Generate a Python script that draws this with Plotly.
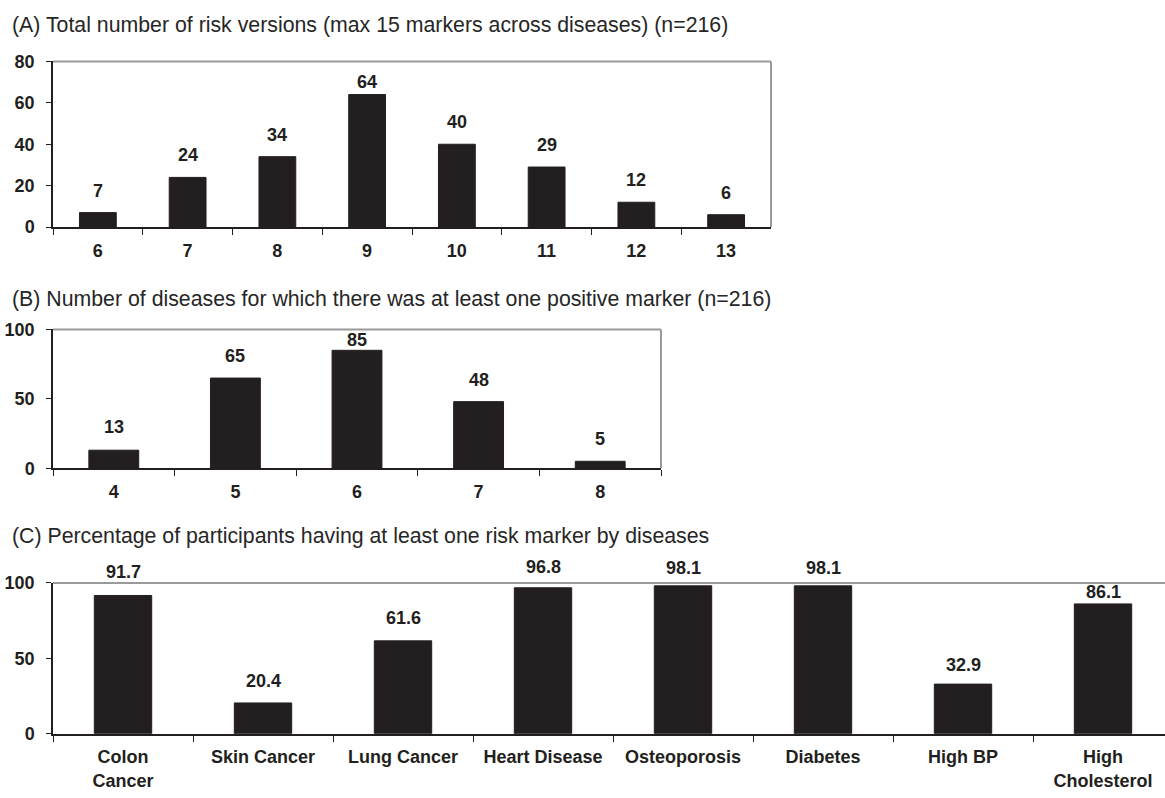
import plotly.graph_objects as go

# Panel A: total number of risk versions
a_categories = ["6", "7", "8", "9", "10", "11", "12", "13"]
a_counts = [7, 24, 34, 64, 40, 29, 12, 6]

# Panel B: number of diseases with at least one positive marker
b_categories = ["4", "5", "6", "7", "8"]
b_counts = [13, 65, 85, 48, 5]

# Panel C: percentage of participants with at least one risk marker
c_categories = ["Colon<br>Cancer", "Skin Cancer", "Lung Cancer", "Heart Disease",
                "Osteoporosis", "Diabetes", "High BP", "High<br>Cholesterol"]
c_percent = [91.7, 20.4, 61.6, 96.8, 98.1, 98.1, 32.9, 86.1]

titles = [
    "(A) Total number of risk versions (max 15 markers across diseases) (n=216)",
    "(B) Number of diseases for which there was at least one positive marker (n=216)",
    "(C) Percentage of participants having at least one risk marker by diseases",
]

# gap (px) between bar top and the baseline of its value label
a_gaps = [15, 15, 15, 6, 15, 15, 15, 15]
b_gaps = [16, 15, 3, 15, 15]
c_gaps = [16, 15, 16, 14, 11, 11, 12, 5]

W, H = 1165, 798
INK = "#231f20"
BORDER = "#9a9a9a"
FONT = "Liberation Sans, Arial, sans-serif"


def px_x(v):
    return v / W


def px_y(v):
    return (H - v) / H


panels = [
    dict(cats=a_categories, vals=a_counts, gaps=a_gaps, fmt="{:d}",
         x=(53, 771), y=(222.7, 52.7), yr=[0, 80], dtick=20, right=True,
         title_y=15),
    dict(cats=b_categories, vals=b_counts, gaps=b_gaps, fmt="{:d}",
         x=(53, 661), y=(470, 327.7), yr=[0, 100], dtick=50, right=True,
         title_y=296),
    dict(cats=c_categories, vals=c_percent, gaps=c_gaps, fmt="{:.1f}",
         x=(53, 1165), y=(742.3, 587.7), yr=[0, 100], dtick=50, right=False,
         title_y=540, cat_px=140),
]

fig = go.Figure()
annotations = []
shapes = []

for i, p in enumerate(panels, start=1):
    xa = "x" if i == 1 else f"x{i}"
    ya = "y" if i == 1 else f"y{i}"
    fig.add_trace(go.Bar(
        x=p["cats"], y=p["vals"], xaxis=xa, yaxis=ya, width=0.41,
        marker=dict(color=INK, line=dict(color=INK, width=1)),
        showlegend=False, hoverinfo="x+y",
    ))
    n = len(p["cats"])
    if "cat_px" in p:
        xr = [-0.5, -0.5 + (p["x"][1] - p["x"][0]) / p["cat_px"]]
    else:
        xr = [-0.5, n - 0.5]
    xkey = "xaxis" if i == 1 else f"xaxis{i}"
    ykey = "yaxis" if i == 1 else f"yaxis{i}"
    fig.update_layout(**{
        xkey: dict(
            domain=[px_x(p["x"][0]), px_x(p["x"][1])], anchor=ya,
            type="category", range=xr, tickson="boundaries",
            ticks="outside", ticklen=6, tickwidth=1, tickcolor=INK,
            showline=True, linecolor=INK, linewidth=2,
            showgrid=False, zeroline=False, fixedrange=True,
            tickfont=dict(family=FONT, size=18, color=INK, weight="bold"),
            ticklabelstandoff=6,
        ),
        ykey: dict(
            domain=[px_y(p["y"][0]), px_y(p["y"][1])], anchor=xa,
            range=p["yr"], dtick=p["dtick"], tick0=0,
            ticks="outside", ticklen=5, tickwidth=1, tickcolor=INK,
            showline=True, linecolor=INK, linewidth=1.5,
            showgrid=False, zeroline=False, fixedrange=True,
            tickfont=dict(family=FONT, size=18, color=INK, weight="bold"),
            ticklabelstandoff=8,
        ),
    })
    # frame: top edge (and right edge where the panel closes)
    shapes.append(dict(type="line", xref="paper", yref="paper",
                       x0=px_x(p["x"][0]), x1=px_x(p["x"][1]),
                       y0=px_y(p["y"][1]), y1=px_y(p["y"][1]),
                       line=dict(color=BORDER, width=2)))
    if p["right"]:
        shapes.append(dict(type="line", xref="paper", yref="paper",
                           x0=px_x(p["x"][1]), x1=px_x(p["x"][1]),
                           y0=px_y(p["y"][0]), y1=px_y(p["y"][1]),
                           line=dict(color=BORDER, width=2)))
    # value labels above bars (category positioned by index)
    for k, (v, g) in enumerate(zip(p["vals"], p["gaps"])):
        annotations.append(dict(
            x=k, y=v, xref=xa, yref=ya, text=p["fmt"].format(v),
            showarrow=False, yanchor="bottom", yshift=g - 5,
            font=dict(family=FONT, size=18, color=INK, weight="bold"),
        ))
    # panel title
    annotations.append(dict(
        x=px_x(10), y=px_y(p["title_y"]), xref="paper", yref="paper",
        xanchor="left", yanchor="middle", text=titles[i - 1], showarrow=False,
        font=dict(family=FONT, size=21.3, color="#262626"),
    ))

fig.update_layout(
    width=W, height=H,
    margin=dict(l=0, r=0, t=0, b=0),
    paper_bgcolor="white", plot_bgcolor="white",
    annotations=annotations, shapes=shapes,
)

fig.write_html("out.html")
